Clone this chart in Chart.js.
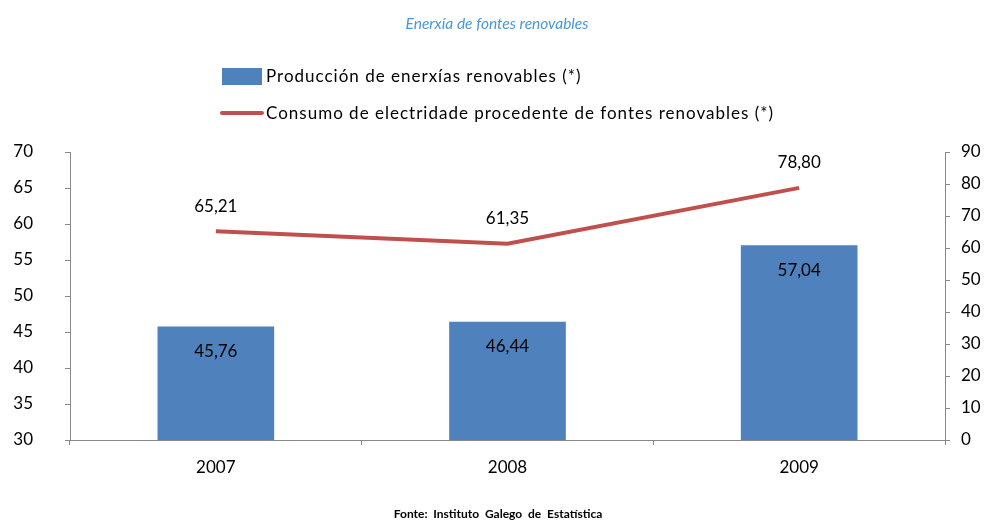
<!DOCTYPE html>
<html>
<head>
<meta charset="utf-8">
<script src="https://cdn.jsdelivr.net/npm/chart.js@4"></script>
<style>
  html, body { margin: 0; background: #fff; }
  #caixa { width: 987px; height: 522px; position: relative; }
</style>
</head>
<body>
<div id="caixa"><canvas id="grafico"></canvas></div>
<script>
const anos = ['2007', '2008', '2009']
const produccion = [45.76, 46.44, 57.04]
const consumo = [65.21, 61.35, 78.80]

const titulo = 'Enerxía de fontes renovables'
const fonte = 'Fonte:  Instituto  Galego  de  Estatística'
const etiquetaBarras = 'Producción de enerxías renovables (*)'
const etiquetaLinha = 'Consumo de electridade procedente de fontes renovables (*)'

const azul = '#4f81bd'
const vermello = '#c0504d'
const letra = 'Lato, "Liberation Sans", sans-serif'

const formato = (v) => v.toFixed(2).replace('.', ',')

// titulo, lenda, fonte e valores sobre as marcas
const textos = {
  id: 'textos',
  afterDraw(chart) {
    const ctx = chart.ctx
    ctx.save()

    ctx.font = 'italic 15.5px ' + letra
    ctx.fillStyle = '#4a98d6'
    ctx.textAlign = 'center'
    ctx.textBaseline = 'middle'
    ctx.fillText(titulo, 497, 24)

    // lenda
    ctx.fillStyle = azul
    ctx.fillRect(222, 68, 40, 17)
    ctx.strokeStyle = vermello
    ctx.lineWidth = 4
    ctx.lineCap = 'round'
    ctx.beginPath()
    ctx.moveTo(222, 113)
    ctx.lineTo(262, 113)
    ctx.stroke()
    ctx.font = '17px ' + letra
    ctx.fillStyle = '#000'
    ctx.textAlign = 'left'
    ctx.letterSpacing = '1px'
    ctx.fillText(etiquetaBarras, 266, 77)
    ctx.fillText(etiquetaLinha, 266, 114)
    ctx.letterSpacing = '0px'

    // valores
    ctx.textAlign = 'center'
    chart.getDatasetMeta(0).data.forEach((el, i) => {
      ctx.fillText(formato(produccion[i]), el.x, el.y + 25)
    })
    chart.getDatasetMeta(1).data.forEach((el, i) => {
      ctx.fillText(formato(consumo[i]), el.x, el.y - 25)
    })

    ctx.font = 'bold 12px ' + letra
    ctx.fillText(fonte, 498, 514)
    ctx.restore()
  }
}

const eixo = { display: true, color: '#888', width: 1 }
const grella = { drawOnChartArea: false, drawTicks: true, tickLength: 5, color: '#888' }

new Chart(document.getElementById('grafico'), {
  data: {
    labels: anos,
    datasets: [
      {
        type: 'bar',
        label: etiquetaBarras,
        data: produccion,
        backgroundColor: azul,
        yAxisID: 'y',
        categoryPercentage: 1,
        barPercentage: 0.4,
        order: 2
      },
      {
        type: 'line',
        label: etiquetaLinha,
        data: consumo,
        borderColor: vermello,
        borderWidth: 4,
        pointRadius: 0,
        tension: 0,
        yAxisID: 'y1',
        order: 1
      }
    ]
  },
  options: {
    responsive: true,
    maintainAspectRatio: false,
    animation: false,
    layout: { padding: { top: 152, left: 0, right: 0, bottom: 0 } },
    plugins: {
      legend: { display: false },
      tooltip: { enabled: false }
    },
    scales: {
      x: {
        grid: { ...grella, offset: true },
        border: eixo,
        ticks: { color: '#000', font: { size: 17, family: letra }, padding: 12 },
        afterFit: (s) => { s.height = 82 }
      },
      y: {
        position: 'left',
        min: 30,
        max: 70,
        grid: grella,
        border: eixo,
        ticks: { stepSize: 5, color: '#000', font: { size: 17, family: letra }, padding: 32 },
        afterFit: (s) => { s.width = 70 }
      },
      y1: {
        position: 'right',
        min: 0,
        max: 90,
        grid: grella,
        border: eixo,
        ticks: { stepSize: 10, color: '#000', font: { size: 17, family: letra }, padding: 11 },
        afterFit: (s) => { s.width = 42 }
      }
    }
  },
  plugins: [textos]
})
</script>
</body>
</html>
